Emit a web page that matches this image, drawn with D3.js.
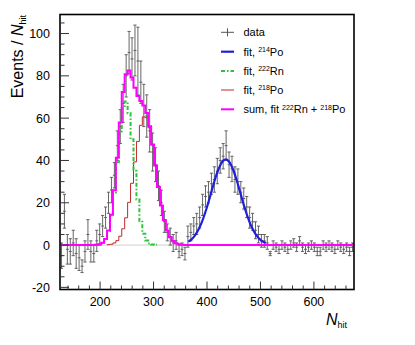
<!DOCTYPE html>
<html>
<head>
<meta charset="utf-8" />
<script src="https://d3js.org/d3.v7.min.js"></script>
<style>
  body { margin: 0; background: #fff; }
  text { font-family: "Liberation Sans", Arial, sans-serif; fill: #000; }
</style>
</head>
<body>
<script>
// histogram binning (N_hit), 100 bins from 125 to 675
var binLo = 125, binW = 5.5, nBins = 100;

// data: events per bin and error
var dataVal = [-5, 16, -2, -3, 1, -4, -6, -10, -3, 5,
               -3, -4, 2, 5, 9, 13, 20, 26, 33, 47,
               56, 67, 80, 91, 88, 92, 87, 77, 66, 61,
               54, 44, 38, 28, 20, 11, 6, 4, 1, 2,
               -3, -2, -4, 4, 6, 9, 10, 13, 19, 23,
               25, 29, 31, 35, 40, 42, 47, 38, 36, 31,
               30, 25, 22, 18, 13, 11, 7, 5, 2, 2,
               1, -4, 0, -1, -2, 0, -1, -2, 0, 1,
               -1, 2, -1, -2, -1, 0, -1, -3, -3, 0,
               -1, 0, -1, -2, 0, -1, -2, -1, -3, -1];
var dataErr = [6, 8, 7, 6, 6, 7, 6, 3, 5, 7,
               5, 4, 5, 5, 5, 5, 5, 6, 6, 7,
               8, 9, 10, 10, 10, 12, 16, 10, 10, 10,
               10, 9, 8, 7, 6, 5, 4, 4, 4, 4,
               3, 3, 3, 5, 4, 4, 5, 5, 5, 5,
               5, 5, 6, 6, 6, 6, 7, 6, 6, 6,
               6, 5, 5, 5, 5, 4, 4, 4, 3, 3,
               3, 1, 2, 2, 2, 2, 2, 2, 2, 2,
               2, 2, 2, 2, 2, 2, 2, 2, 2, 2,
               2, 2, 2, 2, 2, 2, 2, 2, 2, 2];

// fitted 222Rn component (binned), first bin index rnStart
var rnStart = 12;
var rn222 = [0.1, 0.35, 1.1, 2.9, 6.7, 13.9, 24.9, 39.2, 53.8, 64.7,
             67.9, 62.3, 50.0, 35.1, 21.5, 11.5, 5.4, 2.2, 0.8, 0.25, 0.1];

// fitted 218Po component (binned)
var poStart = 16;
var po218 = [0.2, 0.4, 1.0, 2.1, 4.2, 7.7, 12.9, 20.2, 29.2, 39.3,
             49.0, 56.6, 60.6, 60.2, 55.4, 47.3, 37.5, 27.5, 18.7, 11.8,
             6.9, 3.7, 1.9, 0.9, 0.4, 0.2];

// sum 222Rn + 218Po (binned)
var sumStart = 12;
var sumFit = [0.1, 0.35, 1.1, 2.9, 6.9, 14.3, 25.9, 41.3, 58.0, 72.4,
              80.8, 82.5, 79.2, 74.4, 70.5, 68.1, 66.0, 62.4, 56.2, 47.6,
              37.6, 27.5, 18.7, 11.8, 6.9, 3.7, 1.9, 0.9, 0.4, 0.2];

// fitted 214Po curve
var po214N = [365, 370, 375, 380, 385, 390, 395, 400, 405, 410,
              415, 420, 425, 430, 435, 440, 445, 450, 455, 460,
              465, 470, 475, 480, 485, 490, 495, 500, 505, 510];
var po214 = [1.6, 2.5, 3.75, 5.5, 7.8, 10.6, 14.1, 18.0, 22.3, 26.8,
             31.1, 34.9, 37.9, 39.8, 40.5, 39.8, 37.9, 34.9, 31.1, 26.8,
             22.3, 18.0, 14.1, 10.6, 7.8, 5.5, 3.75, 2.5, 1.6, 1.0];

var yMajor = [-20, 0, 20, 40, 60, 80, 100];
var xMajor = [200, 300, 400, 500, 600];

var width = 415, height = 345;
var plot = {left: 60, right: 354, top: 14.5, bottom: 289.5};

var x = d3.scaleLinear().domain([125, 675]).range([plot.left, plot.right]);
var y = d3.scaleLinear().domain([-21, 109]).range([plot.bottom, plot.top]);

var svg = d3.select("body").append("svg")
    .attr("width", width)
    .attr("height", height);

svg.append("defs").append("clipPath").attr("id", "frame")
  .append("rect")
    .attr("x", plot.left).attr("y", plot.top)
    .attr("width", plot.right - plot.left)
    .attr("height", plot.bottom - plot.top);

var g = svg.append("g").attr("clip-path", "url(#frame)");

// zero line
g.append("line")
    .attr("x1", plot.left).attr("x2", plot.right)
    .attr("y1", y(0)).attr("y2", y(0))
    .attr("stroke", "#cfcfcf").attr("stroke-width", 1);

// data with error bars
var pts = g.selectAll(".pt")
  .data(dataVal.map(function(v, i) { return {i: i, v: v, e: dataErr[i]}; }))
  .enter().append("g").attr("class", "pt")
    .attr("stroke", "#555").attr("stroke-width", 0.9);

pts.append("line")
    .attr("x1", function(d) { return x(binLo + binW * (d.i + 0.5)); })
    .attr("x2", function(d) { return x(binLo + binW * (d.i + 0.5)); })
    .attr("y1", function(d) { return y(d.v - d.e); })
    .attr("y2", function(d) { return y(d.v + d.e); });
pts.append("line")
    .attr("x1", function(d) { return x(binLo + binW * d.i); })
    .attr("x2", function(d) { return x(binLo + binW * (d.i + 1)); })
    .attr("y1", function(d) { return y(d.v); })
    .attr("y2", function(d) { return y(d.v); });
[-1, 1].forEach(function(s) {
  pts.append("line")
      .attr("x1", function(d) { return x(binLo + binW * (d.i + 0.5)) - 1.6; })
      .attr("x2", function(d) { return x(binLo + binW * (d.i + 0.5)) + 1.6; })
      .attr("y1", function(d) { return y(d.v + s * d.e); })
      .attr("y2", function(d) { return y(d.v + s * d.e); });
});

// step outline of a binned series
function steps(start, vals, full) {
  var p = [];
  var first = full ? 0 : start, last = full ? nBins : start + vals.length;
  if (!full) p.push([x(binLo + binW * first), y(0)]);
  for (var i = first; i < last; i++) {
    var k = i - start;
    var v = (k >= 0 && k < vals.length) ? vals[k] : 0;
    p.push([x(binLo + binW * i), y(v)]);
    p.push([x(binLo + binW * (i + 1)), y(v)]);
  }
  return d3.line()(p);
}

g.append("path")
    .attr("d", steps(poStart, po218, false))
    .attr("fill", "none").attr("stroke", "#c02828").attr("stroke-width", 1);

g.append("path")
    .attr("d", steps(rnStart, rn222, false))
    .attr("fill", "none").attr("stroke", "#2ec23a").attr("stroke-width", 2)
    .attr("stroke-dasharray", "4,2,1.5,2");

g.append("path")
    .attr("d", steps(sumStart, sumFit, true))
    .attr("fill", "none").attr("stroke", "#ff00ff").attr("stroke-width", 2);

g.append("path")
    .attr("d", d3.line().curve(d3.curveMonotoneX)
      .x(function(d, i) { return x(po214N[i]); })
      .y(function(d) { return y(d); })(po214))
    .attr("fill", "none").attr("stroke", "#1f1fdc").attr("stroke-width", 2.2);

// frame
svg.append("rect")
    .attr("x", plot.left).attr("y", plot.top)
    .attr("width", plot.right - plot.left)
    .attr("height", plot.bottom - plot.top)
    .attr("fill", "none").attr("stroke", "#000").attr("stroke-width", 1.6);

// y axis ticks (inside frame)
var yt = svg.append("g").attr("stroke", "#333").attr("stroke-width", 1);
d3.range(-20, 106, 5).forEach(function(v) {
  var major = yMajor.indexOf(v) >= 0;
  yt.append("line")
      .attr("x1", plot.left).attr("x2", plot.left + (major ? 9 : 4.5))
      .attr("y1", y(v)).attr("y2", y(v));
});
svg.selectAll(".ylab").data(yMajor).enter().append("text")
    .attr("x", 50).attr("y", function(d) { return y(d); })
    .attr("dy", "0.36em").attr("text-anchor", "end")
    .attr("font-size", 12.5)
    .text(function(d) { return d; });

// x axis ticks (inside frame)
var xt = svg.append("g").attr("stroke", "#333").attr("stroke-width", 1);
d3.range(140, 675, 20).forEach(function(v) {
  var major = xMajor.indexOf(v) >= 0;
  xt.append("line")
      .attr("x1", x(v)).attr("x2", x(v))
      .attr("y1", plot.bottom).attr("y2", plot.bottom - (major ? 8 : 4));
});
svg.selectAll(".xlab").data(xMajor).enter().append("text")
    .attr("x", function(d) { return x(d); }).attr("y", 306)
    .attr("text-anchor", "middle")
    .attr("font-size", 12.5)
    .text(function(d) { return d; });

// axis titles
var xTitle = svg.append("text")
    .attr("x", 347).attr("y", 325)
    .attr("text-anchor", "end").attr("font-size", 16);
xTitle.append("tspan").attr("font-style", "italic").text("N");
xTitle.append("tspan").attr("font-size", 9).attr("dy", 3).text("hit");

var yTitle = svg.append("text")
    .attr("transform", "translate(23,15) rotate(-90)")
    .attr("text-anchor", "end").attr("font-size", 16);
yTitle.append("tspan").text("Events / ");
yTitle.append("tspan").attr("font-style", "italic").text("N");
yTitle.append("tspan").attr("font-size", 9).attr("dy", 3).text("hit");

// legend
var legY = [32.3, 51.7, 71, 90, 109.3];
var leg = svg.append("g");
// data cross
leg.append("line").attr("x1", 221).attr("x2", 234).attr("y1", legY[0]).attr("y2", legY[0])
    .attr("stroke", "#555").attr("stroke-width", 1);
leg.append("line").attr("x1", 227.5).attr("x2", 227.5).attr("y1", legY[0] - 4).attr("y2", legY[0] + 4)
    .attr("stroke", "#555").attr("stroke-width", 1);
leg.append("line").attr("x1", 221).attr("x2", 234).attr("y1", legY[1]).attr("y2", legY[1])
    .attr("stroke", "#1f1fdc").attr("stroke-width", 2.2);
leg.append("line").attr("x1", 221).attr("x2", 234).attr("y1", legY[2]).attr("y2", legY[2])
    .attr("stroke", "#2ec23a").attr("stroke-width", 2).attr("stroke-dasharray", "4,2,1.5,2");
leg.append("line").attr("x1", 221).attr("x2", 234).attr("y1", legY[3]).attr("y2", legY[3])
    .attr("stroke", "#c02828").attr("stroke-width", 1);
leg.append("line").attr("x1", 221).attr("x2", 234).attr("y1", legY[4]).attr("y2", legY[4])
    .attr("stroke", "#ff00ff").attr("stroke-width", 2);

var legText = [
  [["data", null]],
  [["fit, ", null], ["214", "sup"], ["Po", null]],
  [["fit, ", null], ["222", "sup"], ["Rn", null]],
  [["fit, ", null], ["218", "sup"], ["Po", null]],
  [["sum, fit ", null], ["222", "sup"], ["Rn + ", null], ["218", "sup"], ["Po", null]]
];
legText.forEach(function(parts, k) {
  var t = leg.append("text").attr("x", 243.5).attr("y", legY[k]).attr("dy", "0.36em")
      .attr("font-size", 11);
  var up = false;
  parts.forEach(function(p) {
    var s = t.append("tspan").text(p[0]);
    if (p[1] === "sup") { s.attr("font-size", 7).attr("dy", -3.5); up = true; }
    else if (up) { s.attr("dy", 3.5); up = false; }
  });
});
</script>
</body>
</html>
